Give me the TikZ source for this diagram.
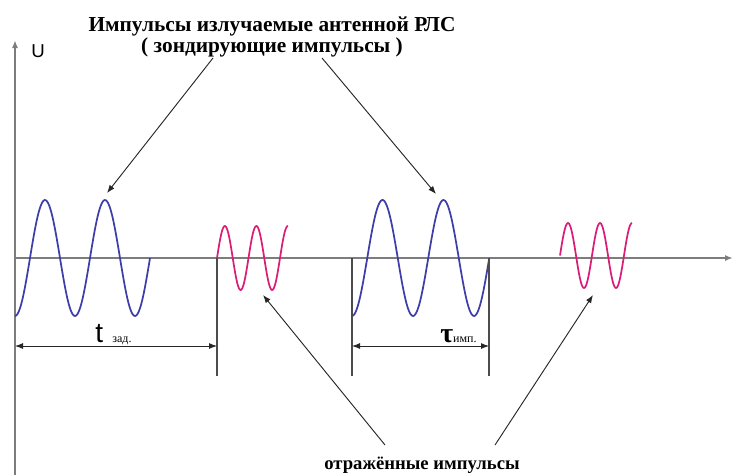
\documentclass[tikz,border=0pt]{standalone}
\usepackage{fontspec}
\setmainfont{Liberation Serif}
\newfontfamily\sansfnt{Liberation Sans}
\usepackage{xcolor}
\usetikzlibrary{arrows.meta}
\definecolor{pulseblue}{RGB}{62,62,168}
\definecolor{echopink}{RGB}{218,30,120}
\definecolor{axisgray}{RGB}{125,125,125}
\tikzset{
  axisline/.style={axisgray,line width=1.5pt},
  markline/.style={black!70,line width=0.9pt},
  sendwave/.style={pulseblue,line width=1.3pt,smooth},
  echowave/.style={echopink,line width=1.3pt,smooth},
  pointer/.style={->,black!85,line width=0.7pt},
  caption/.style={font=\bfseries\fontsize{16}{15.5}\selectfont,align=center}
}

\begin{document}
\begin{tikzpicture}[>={Latex[length=6pt,width=4.5pt]},x=0.75pt,y=-0.75pt]
          \useasboundingbox (0,0) rectangle (737,475);
          \draw[axisline,->] (15,475) -- (15,40);
          \draw[axisline,->] (15,258) -- (733,258);
          \node[font=\sansfnt\fontsize{14}{14}\selectfont] (U) at (38,51) {U};
          % pulses
          \draw[sendwave] plot[domain=15:150,samples=120] (\x,{258+58*cos(6*(\x-15))});
          \draw[sendwave] plot[domain=352:489,samples=120] (\x,{258+58*cos(5.9016*(\x-352))});
          \draw[echowave] plot[domain=217:288,samples=100] (\x,{258-32*sin(11.4286*(\x-217))});
          \draw[echowave] plot[domain=560:632,samples=100] (\x,{255.5-32.5*sin(11.25*(\x-560))});
          % time marks
          \draw[markline] (217,258) -- (217,376);
          \draw[markline] (352,258) -- (352,376);
          \draw[markline] (489,258) -- (489,376);
          \draw[<->,black!85,line width=0.7pt] (15,346) -- (217,346);
          \draw[<->,black!85,line width=0.7pt] (352,346) -- (489,346);
          \node[anchor=base west,inner sep=0] (tzad) at (95,342)
            {{\sansfnt\fontsize{21}{21}\selectfont t}\hspace{7pt}{\fontsize{9}{9}\selectfont зад.}};
          \node[anchor=base west,inner sep=0] (timp) at (440,342)
            {{\bfseries\fontsize{21}{21}\selectfont τ}{\fontsize{9}{9}\selectfont имп.}};
          % captions
          \node[caption] (top) at (272,37) {Импульсы излучаемые антенной РЛС\\( зондирующие импульсы )};
          \node[caption,font=\bfseries\fontsize{14}{14}\selectfont] (bottom) at (422,465) {отражённые импульсы};
          \coordinate (s1) at (213,58);
          \coordinate (s2) at (322,58);
          \coordinate (p1) at (107,193);
          \coordinate (p2) at (436,194);
          \coordinate (r1) at (385,445);
          \coordinate (r2) at (495,445);
          \coordinate (e1) at (263,295);
          \coordinate (e2) at (593,295);
          \draw[pointer] (s1) -- (p1);
          \draw[pointer] (s2) -- (p2);
          \draw[pointer] (r1) -- (e1);
          \draw[pointer] (r2) -- (e2);
        \end{tikzpicture}
\end{document}
